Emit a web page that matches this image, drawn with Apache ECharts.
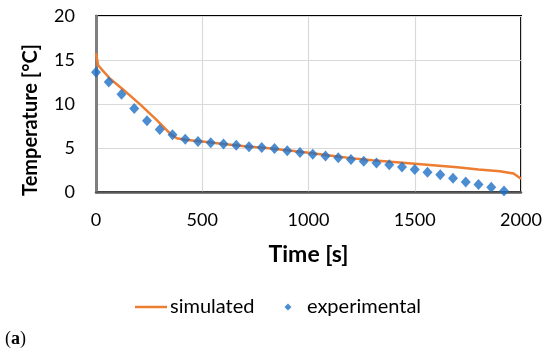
<!DOCTYPE html>
<html><head><meta charset="utf-8">
<script src="https://cdn.jsdelivr.net/npm/echarts@6/dist/echarts.min.js"></script>
<style>html,body{margin:0;padding:0;background:#fff}#c{width:550px;height:353px}</style>
</head><body><div id="c"></div>
<script>
const simTime = [0,10,35,65,130,210,285,350,380,420,500,600,700,800,900,1000,1100,1200,1300,1400,1500,1600,1700,1800,1900,1965,2000];
const simTemp = [15.8,14.4,13.7,12.9,11.6,9.9,8.2,6.6,6.1,5.95,5.75,5.45,5.2,5.0,4.75,4.45,4.15,3.85,3.6,3.4,3.2,3.0,2.8,2.55,2.35,2.1,1.5];
const expTime = [0,60,120,180,240,300,360,420,480,540,600,660,720,780,840,900,960,1020,1080,1140,1200,1260,1320,1380,1440,1500,1560,1620,1680,1740,1800,1860,1920];
const expTemp = [13.6,12.5,11.1,9.5,8.1,7.1,6.5,6.0,5.75,5.6,5.45,5.3,5.15,5.05,4.95,4.7,4.5,4.3,4.1,3.9,3.7,3.5,3.3,3.1,2.85,2.55,2.25,1.95,1.55,1.15,0.85,0.55,0.1];
const xTicks = [0,500,1000,1500,2000];
const yTicks = [0,5,10,15,20];

const chart = echarts.init(document.getElementById('c'));
const font = 'Lato, "Open Sans", sans-serif';
chart.setOption({
  animation:false,
  grid:{left:96,right:29,top:16,bottom:161,show:true,borderColor:'#000',borderWidth:2},
  xAxis:{type:'value',min:xTicks[0],max:xTicks[xTicks.length-1],interval:500,
    name:'Time [s]',nameLocation:'middle',nameGap:51,
    nameTextStyle:{fontFamily:font,fontSize:23,fontWeight:'bold',color:'#000'},
    axisLine:{lineStyle:{color:'#595959',width:2.5}},axisTick:{show:false},
    axisLabel:{fontFamily:font,fontSize:18,color:'#000',margin:19,formatter:v=>String(v)},
    splitLine:{lineStyle:{color:'#d9d9d9',width:1.2}}},
  yAxis:{type:'value',min:yTicks[0],max:yTicks[yTicks.length-1],interval:5,
    axisLine:{show:true,lineStyle:{color:'#7f7f7f',width:3}},axisTick:{show:false},
    axisLabel:{fontFamily:font,fontSize:18,color:'#000',margin:21,formatter:v=>String(v)},
    splitLine:{lineStyle:{color:'#d9d9d9',width:1.2}}},
  legend:{top:292,left:130,itemGap:30,itemWidth:32,itemHeight:7,
    textStyle:{fontFamily:font,fontSize:20,color:'#000',padding:[0,0,0,-2]},
    data:[
      {name:'simulated',icon:'path://M0,0L32,0L32,2.5L0,2.5Z',itemStyle:{color:'#ED7D31',borderWidth:0}},
      {name:'experimental',icon:'path://M0,-1L1,0L0,1L-1,0Z',itemStyle:{color:'#1F6FC5',borderWidth:0}}
    ]},
  graphic:[
    {type:'text',x:31,y:120,rotation:Math.PI/2,
      style:{text:'Temperature [°C]',font:'bold 20px '+font,fill:'#000',align:'center',verticalAlign:'middle'}},
    {type:'text',left:5,top:330,style:{
      rich:{p:{font:'18px "Liberation Serif", serif',fill:'#000'},b:{font:'bold 18px "Liberation Serif", serif',fill:'#000'}},
      text:'{p|(}{b|a}{p|)}'}}
  ],
  series:[
    {name:'simulated',type:'line',data:simTime.map((t,i)=>[t,simTemp[i]]),showSymbol:false,symbol:'none',
      lineStyle:{color:'#ED7D31',width:2.5},itemStyle:{color:'#ED7D31'},z:2},
    {name:'experimental',type:'scatter',data:expTime.map((t,i)=>[t,expTemp[i]]),symbol:'diamond',symbolSize:[10,11],
      itemStyle:{color:'#1F6FC5'},z:3}
  ]
});
</script></body></html>
